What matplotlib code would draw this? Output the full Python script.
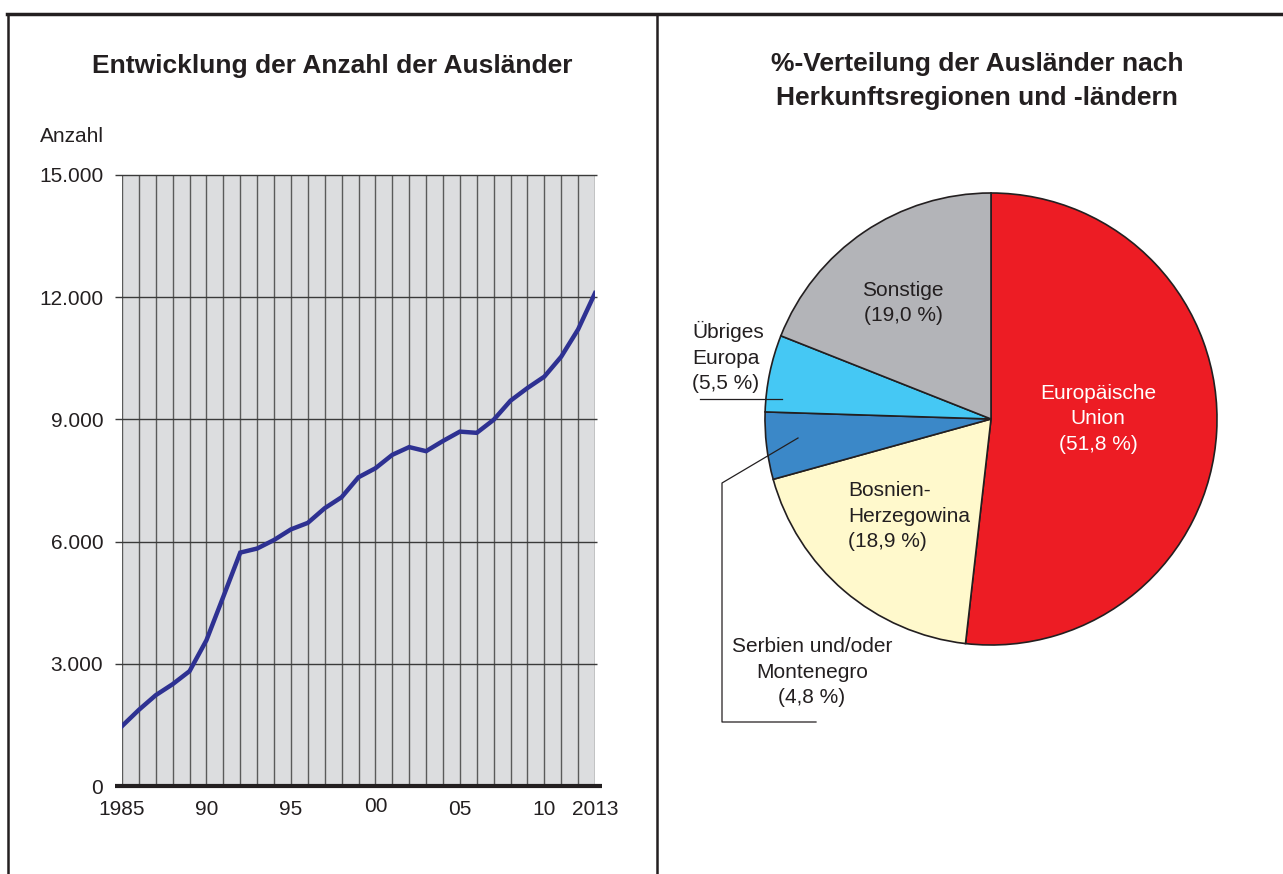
import matplotlib
matplotlib.use("Agg")
import matplotlib.pyplot as plt
from matplotlib.lines import Line2D

plt.rcParams['font.family'] = ['Liberation Sans', 'DejaVu Sans']

# Daten: Entwicklung der Anzahl der Ausländer
jahre = list(range(1985, 2014))
anzahl = [1470, 1870, 2230, 2500, 2820, 3580, 4650, 5730, 5830, 6040,
          6300, 6460, 6820, 7090, 7580, 7800, 8130, 8320, 8220, 8470,
          8700, 8670, 8990, 9460, 9770, 10050, 10540, 11210, 12100]
y_ticks = [0, 3000, 6000, 9000, 12000, 15000]
y_labels = ['0', '3.000', '6.000', '9.000', '12.000', '15.000']
x_ticks = [1985, 1990, 1995, 2000, 2005, 2010, 2013]
x_labels = ['1985', '90', '95', '00', '05', '10', '2013']

# Daten: Verteilung nach Herkunftsregionen
regionen = ['Europäische\nUnion', 'Bosnien-\nHerzegowina', 'Serbien und/oder\nMontenegro',
            'Übriges\nEuropa', 'Sonstige']
anteile = [51.8, 18.9, 4.8, 5.5, 19.0]
farben = ['#ED1C24', '#FFF9CC', '#3B88C8', '#45C8F4', '#B3B4B8']

W, H = 1283, 874
fig = plt.figure(figsize=(W / 100, H / 100), dpi=100)


def box(x0, y0, x1, y1):
    # Pixelkoordinaten (oben links) -> Figure-Koordinaten
    return [x0 / W, 1 - y1 / H, (x1 - x0) / W, (y1 - y0) / H]


# Rahmen
for xs, ys, lw in [((7 / W, 1), (1 - 14 / H, 1 - 14 / H), 2.5),
                   ((8 / W, 8 / W), (0, 1 - 14 / H), 1.8),
                   ((657 / W, 657 / W), (0, 1 - 14 / H), 1.8)]:
    fig.add_artist(Line2D(xs, ys, transform=fig.transFigure, color='#231f20', lw=lw))

# --- Linienchart ---
ax = fig.add_axes(box(122, 175, 595, 786))
ax.set_facecolor('#DCDDDF')
ax.vlines(jahre, 0, 15000, colors='#5a5a5a', linewidth=1.0, zorder=1)
ax.hlines(y_ticks[1:], 1984.6, 2013.1, colors='#3a3a3a', linewidth=1.0, zorder=1, clip_on=False)
ax.hlines(0, 1984.6, 2013.4, colors='#231f20', linewidth=3, zorder=3, clip_on=False)
ax.plot(jahre, anzahl, color='#2E3192', linewidth=3.2, zorder=4, solid_joinstyle='miter')
ax.set_xlim(1985, 2013)
ax.set_ylim(0, 15000)
for s in ax.spines.values():
    s.set_visible(False)
ax.set_yticks(y_ticks)
ax.set_yticklabels(y_labels, fontsize=15, color='#231f20')
ax.tick_params(axis='y', length=0, pad=13.5)
ax.set_xticks(x_ticks)
ax.set_xticklabels(x_labels, fontsize=15, color='#231f20')
ax.tick_params(axis='x', length=0, pad=10)
ax.get_xticklabels()[3].set_y(0.004)
fig.text(40 / W, 1 - 137 / H, 'Anzahl', va='center', fontsize=15, color='#231f20')
fig.text(332 / W, 1 - 66 / H, 'Entwicklung der Anzahl der Ausländer', ha='center', va='center',
         fontsize=19, fontweight='bold', color='#231f20')

# --- Kreisdiagramm ---
R = 226
cx, cy = 991, 419
pax = fig.add_axes(box(cx - R, cy - R, cx + R, cy + R))
pax.pie(anteile, colors=farben, startangle=90, counterclock=False, radius=1,
        wedgeprops={'edgecolor': '#231f20', 'linewidth': 1.2})
pax.set_xlim(-1, 1)
pax.set_ylim(-1, 1)
pax.set_aspect('equal')


def p(px, py):
    return (px - cx) / R, (cy - py) / R


fs = 15
ls = 1.42
pax.text(*p(1098, 419), regionen[0] + '\n(51,8 %)', ha='center', va='center', color='white',
         fontsize=fs, linespacing=ls)
pax.text(*p(848, 516), regionen[1] + '\n(18,9 %)', ha='left', va='center', color='#231f20',
         fontsize=fs, linespacing=ls)
pax.text(*p(903, 303), regionen[4] + '\n(19,0 %)', ha='center', va='center', color='#231f20',
         fontsize=fs, linespacing=ls)
pax.text(*p(692, 357), regionen[3] + '\n(5,5 %)', ha='left', va='center', color='#231f20',
         fontsize=fs, linespacing=ls, clip_on=False)
pax.text(*p(812, 672), regionen[2] + '\n(4,8 %)', ha='center', va='center', color='#231f20',
         fontsize=fs, linespacing=ls, clip_on=False)

# Führungslinien
lx, ly = zip(*[p(700, 399), p(782, 399)])
pax.plot(lx, ly, color='#231f20', lw=0.9, clip_on=False)
lx, ly = zip(*[p(798, 438), p(722, 483), p(722, 722), p(816, 722)])
pax.plot(lx, ly, color='#231f20', lw=0.9, clip_on=False)

fig.text(977 / W, 1 - 81 / H, '%-Verteilung der Ausländer nach\nHerkunftsregionen und -ländern',
         ha='center', va='center', fontsize=19, fontweight='bold', color='#231f20', linespacing=1.55)

fig.savefig('out.png', dpi=100, facecolor='white')
